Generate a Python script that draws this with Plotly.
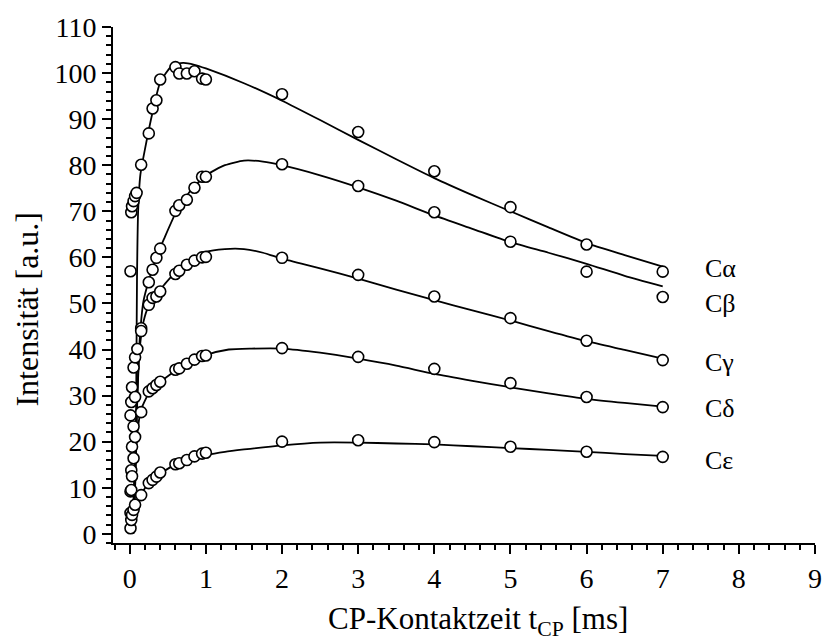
import plotly.graph_objects as go

# ---- measured data points (contact time in ms, intensity a.u.) ----
x_alpha = [0.01, 0.02, 0.03, 0.05, 0.07, 0.09, 0.15, 0.25, 0.3, 0.35, 0.4, 0.6, 0.65, 0.75, 0.85, 0.95, 1.0, 2, 3, 4, 5, 6, 7]
y_alpha = [57.0, 69.8, 71.1, 72.2, 73.3, 74.0, 80.1, 86.9, 92.3, 94.1, 98.6, 101.3, 99.9, 99.9, 100.4, 98.8, 98.6, 95.4, 87.2, 78.7, 70.9, 62.8, 56.9]

x_beta = [0.01, 0.02, 0.03, 0.05, 0.07, 0.1, 0.15, 0.25, 0.3, 0.35, 0.4, 0.6, 0.65, 0.75, 0.85, 0.95, 1.0, 2, 3, 4, 5, 6, 7]
y_beta = [25.7, 28.6, 31.8, 36.1, 38.3, 40.1, 44.6, 54.6, 57.3, 59.9, 61.9, 70.1, 71.3, 72.5, 75.1, 77.5, 77.5, 80.2, 75.5, 69.8, 63.4, 56.9, 51.4]

x_gamma = [0.01, 0.02, 0.03, 0.05, 0.07, 0.15, 0.25, 0.3, 0.35, 0.4, 0.6, 0.65, 0.75, 0.85, 0.95, 1.0, 2, 3, 4, 5, 6, 7]
y_gamma = [9.2, 13.8, 18.9, 23.3, 29.7, 44.0, 49.7, 51.2, 51.5, 52.6, 56.4, 57.1, 58.4, 59.3, 60.0, 60.1, 59.9, 56.2, 51.5, 46.8, 41.9, 37.7]

x_delta = [0.01, 0.02, 0.03, 0.05, 0.07, 0.15, 0.25, 0.3, 0.35, 0.4, 0.6, 0.65, 0.75, 0.85, 0.95, 1.0, 2, 3, 4, 5, 6, 7]
y_delta = [4.5, 9.5, 12.5, 16.4, 21.0, 26.4, 30.9, 31.6, 32.3, 33.0, 35.6, 35.9, 36.9, 37.8, 38.6, 38.7, 40.3, 38.4, 35.8, 32.7, 29.7, 27.5]

x_eps = [0.01, 0.02, 0.03, 0.05, 0.07, 0.15, 0.25, 0.3, 0.35, 0.4, 0.6, 0.65, 0.75, 0.85, 0.95, 1.0, 2, 3, 4, 5, 6, 7]
y_eps = [1.2, 3.0, 4.1, 5.2, 6.3, 8.4, 11.0, 11.7, 12.4, 13.3, 15.1, 15.3, 16.0, 16.8, 17.4, 17.6, 20.0, 20.3, 19.9, 18.9, 17.8, 16.7]

# ---- fitted curves ----
fx_alpha = [0.04, 0.07, 0.085, 0.095, 0.11, 0.14, 0.2, 0.3, 0.4, 0.55, 0.7, 0.85, 1.0, 1.5, 2, 2.5, 3, 3.5, 4, 4.5, 5, 5.5, 6, 6.5, 7]
fy_alpha = [0, 10, 30, 55, 70, 78, 83.5, 91.5, 98.0, 101.5, 102.2, 101.8, 101.0, 97.8, 94.0, 89.8, 85.5, 81.3, 77.2, 73.5, 70.0, 66.5, 63.1, 60.5, 58.0]

fx_beta = [0.05, 0.08, 0.1, 0.13, 0.18, 0.25, 0.35, 0.45, 0.6, 0.8, 1.0, 1.25, 1.5, 1.75, 2, 2.5, 3, 3.5, 4, 4.5, 5, 5.5, 6, 6.5, 7]
fy_beta = [0, 15, 30, 42, 50.5, 55, 60, 64, 69.5, 74.5, 77.8, 80.0, 81.0, 80.8, 80.0, 77.8, 75.2, 72.3, 69.1, 66.2, 63.3, 61.0, 58.6, 56.0, 53.7]

fx_gamma = [0.04, 0.07, 0.1, 0.13, 0.18, 0.25, 0.35, 0.45, 0.6, 0.8, 1.0, 1.25, 1.5, 1.75, 2, 2.5, 3, 3.5, 4, 4.5, 5, 5.5, 6, 6.5, 7]
fy_gamma = [0, 15, 30, 40, 46, 49.5, 52.0, 54, 56.8, 59.5, 61.2, 61.8, 61.8, 61.0, 59.7, 57.6, 55.4, 53.0, 50.7, 48.5, 46.3, 44.0, 41.8, 39.9, 38.0]

fx_delta = [0.03, 0.06, 0.09, 0.12, 0.15, 0.25, 0.35, 0.45, 0.6, 0.8, 1.0, 1.3, 1.6, 2, 2.5, 3, 3.5, 4, 4.5, 5, 5.5, 6, 6.5, 7]
fy_delta = [0, 12, 20, 24.5, 27, 30.5, 32.3, 33.6, 35.4, 37.4, 38.8, 40.0, 40.2, 40.2, 39.3, 38.0, 36.5, 34.7, 33.2, 31.8, 30.5, 29.3, 28.4, 27.6]

fx_eps = [0.02, 0.05, 0.08, 0.12, 0.15, 0.25, 0.35, 0.45, 0.6, 0.8, 1.0, 1.25, 1.5, 2, 2.5, 3, 3.5, 4, 4.5, 5, 5.5, 6, 6.5, 7]
fy_eps = [0, 3, 5.5, 7.5, 8.6, 11.0, 12.4, 13.6, 15.0, 16.3, 17.1, 17.8, 18.3, 19.2, 19.8, 19.8, 19.6, 19.4, 19.0, 18.6, 18.2, 17.8, 17.3, 16.9]

labels = ["Cα", "Cβ", "Cγ", "Cδ", "Cε"]
label_y = [57.5, 50.0, 37.2, 27.2, 16.0]
label_x = 7.53

x_title = "CP-Kontaktzeit t<sub>CP</sub> [ms]"
y_title = "Intensität [a.u.]"

FONT = "Liberation Serif"

fig = go.Figure()
fits = [(fx_alpha, fy_alpha), (fx_beta, fy_beta), (fx_gamma, fy_gamma), (fx_delta, fy_delta), (fx_eps, fy_eps)]
pts = [(x_alpha, y_alpha), (x_beta, y_beta), (x_gamma, y_gamma), (x_delta, y_delta), (x_eps, y_eps)]

for fx, fy in fits:
    fig.add_trace(go.Scatter(x=fx, y=fy, mode="lines", line=dict(color="black", width=1.8, shape="spline", smoothing=0.6),
                             showlegend=False, hoverinfo="skip"))
for px, py in pts:
    fig.add_trace(go.Scatter(x=px, y=py, mode="markers",
                             marker=dict(symbol="circle", size=11, color="white", line=dict(color="black", width=1.6)),
                             showlegend=False))

for lab, ly in zip(labels, label_y):
    fig.add_annotation(x=label_x, y=ly, text=lab, showarrow=False, xanchor="left", yanchor="middle",
                       font=dict(family=FONT, size=26, color="black"))

# axis titles as annotations (placed like the reference)
fig.add_annotation(xref="paper", yref="paper", x=0.52, y=-0.108, text=x_title, showarrow=False,
                   xanchor="center", yanchor="top", font=dict(family=FONT, size=31, color="black"))
fig.add_annotation(xref="paper", yref="paper", x=-0.122, y=0.453, text=y_title, showarrow=False,
                   textangle=-90, xanchor="center", yanchor="middle", font=dict(family=FONT, size=32, color="black"))

fig.update_layout(
    width=834, height=639,
    margin=dict(l=113, r=14, t=26, b=96),
    paper_bgcolor="white", plot_bgcolor="white",
    font=dict(family=FONT, size=28, color="black"),
)
fig.update_xaxes(
    range=[-0.22, 9], showgrid=False, zeroline=False,
    showline=True, linecolor="black", linewidth=2,
    ticks="outside", ticklen=9, tickwidth=2, tickcolor="black",
    tick0=0, dtick=1, tickfont=dict(family=FONT, size=28),
    minor=dict(ticks="outside", ticklen=5, tickwidth=1.5, tickcolor="black", tick0=0, dtick=0.2, showgrid=False),
)
fig.update_yaxes(
    range=[-2, 110], showgrid=False, zeroline=False,
    showline=True, linecolor="black", linewidth=2,
    ticks="outside", ticklen=9, tickwidth=2, tickcolor="black",
    tick0=0, dtick=10, tickfont=dict(family=FONT, size=28),
    minor=dict(ticks="outside", ticklen=5, tickwidth=1.5, tickcolor="black", tick0=0, dtick=2, showgrid=False),
)

fig.write_html("out.html")
